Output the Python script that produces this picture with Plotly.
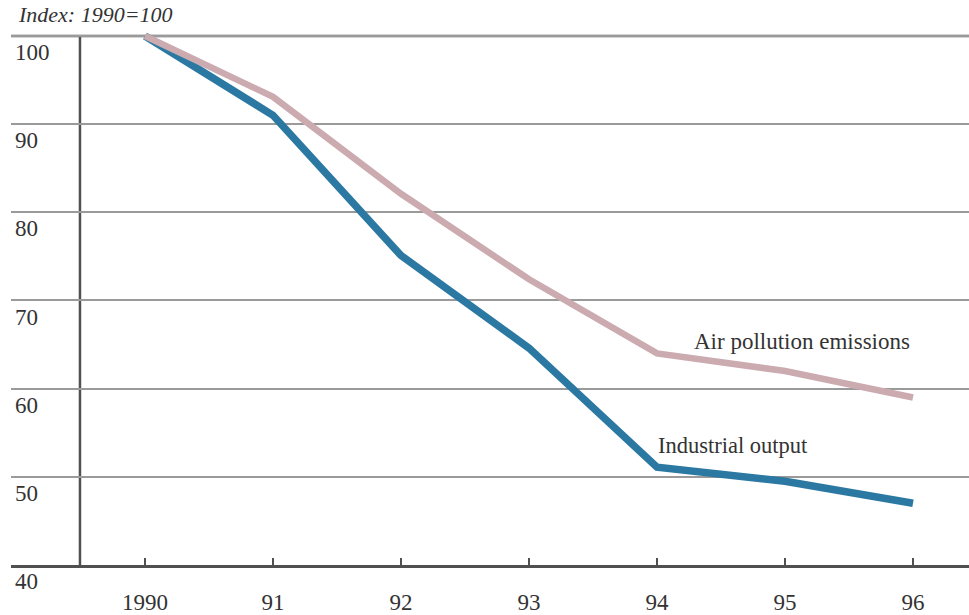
import plotly.graph_objects as go

# Index values, 1990 = 100
years = [1990, 1991, 1992, 1993, 1994, 1995, 1996]
year_labels = ["1990", "91", "92", "93", "94", "95", "96"]
industrial_output = [100, 91.0, 75.1, 64.6, 51.1, 49.5, 47.0]
air_pollution = [100, 93.1, 82.1, 72.4, 64.0, 62.0, 59.0]
y_ticks = [40, 50, 60, 70, 80, 90, 100]

FONT = "Liberation Serif"
TEXT = "#333333"
AXIS = "#505050"
GRID = "#9a9a9a"
BLUE = "#2b79a2"
PINK = "#cbaab0"

fig = go.Figure()
fig.add_trace(go.Scatter(x=years, y=industrial_output, mode="lines",
                         line=dict(color=BLUE, width=7.5), hoverinfo="skip"))
fig.add_trace(go.Scatter(x=years, y=air_pollution, mode="lines",
                         line=dict(color=PINK, width=6.5), hoverinfo="skip"))

fig.update_layout(
    width=969, height=615,
    margin=dict(l=11, r=0, t=32, b=44),
    paper_bgcolor="white", plot_bgcolor="white",
    showlegend=False,
    font=dict(family=FONT, size=23, color=TEXT),
    xaxis=dict(
        range=[1988.953, 1996.4375],
        tickvals=years, ticktext=year_labels,
        ticks="inside", ticklen=7, tickwidth=1.5, tickcolor=AXIS,
        showline=True, linecolor=AXIS, linewidth=2.5,
        showgrid=False, zeroline=False,
        ticklabelstandoff=15,
        tickfont=dict(family=FONT, size=23, color=TEXT),
    ),
    yaxis=dict(
        range=[40, 100.45],
        tickvals=y_ticks,
        ticklabelposition="inside bottom",
        ticklabeloverflow="allow",
        ticklabelstandoff=1,
        ticks="", showline=False, zeroline=False,
        showgrid=True, gridcolor=GRID, gridwidth=2,
        tickfont=dict(family=FONT, size=23, color=TEXT),
    ),
)

# darker top rule at the 100 level and the vertical axis
fig.add_shape(type="line", xref="paper", yref="y", x0=0, x1=1, y0=100, y1=100,
              line=dict(color=AXIS, width=2.5), layer="below")
fig.add_shape(type="line", xref="paper", yref="y", x0=0.072, x1=0.072, y0=40, y1=100,
              line=dict(color=AXIS, width=2.5), layer="below")

fig.add_annotation(text="<i>Index: 1990=100</i>", xref="paper", yref="paper",
                   x=0.005, y=1.033, xanchor="left", yanchor="middle",
                   showarrow=False, font=dict(family=FONT, size=22, color=TEXT))
fig.add_annotation(text="Air pollution emissions", x=1994.27, y=65.35,
                   xanchor="left", yanchor="middle", showarrow=False,
                   font=dict(family=FONT, size=23, color=TEXT))
fig.add_annotation(text="Industrial output", x=1993.99, y=53.57,
                   xanchor="left", yanchor="middle", showarrow=False,
                   font=dict(family=FONT, size=22.5, color=TEXT))

fig.write_html("out.html")
